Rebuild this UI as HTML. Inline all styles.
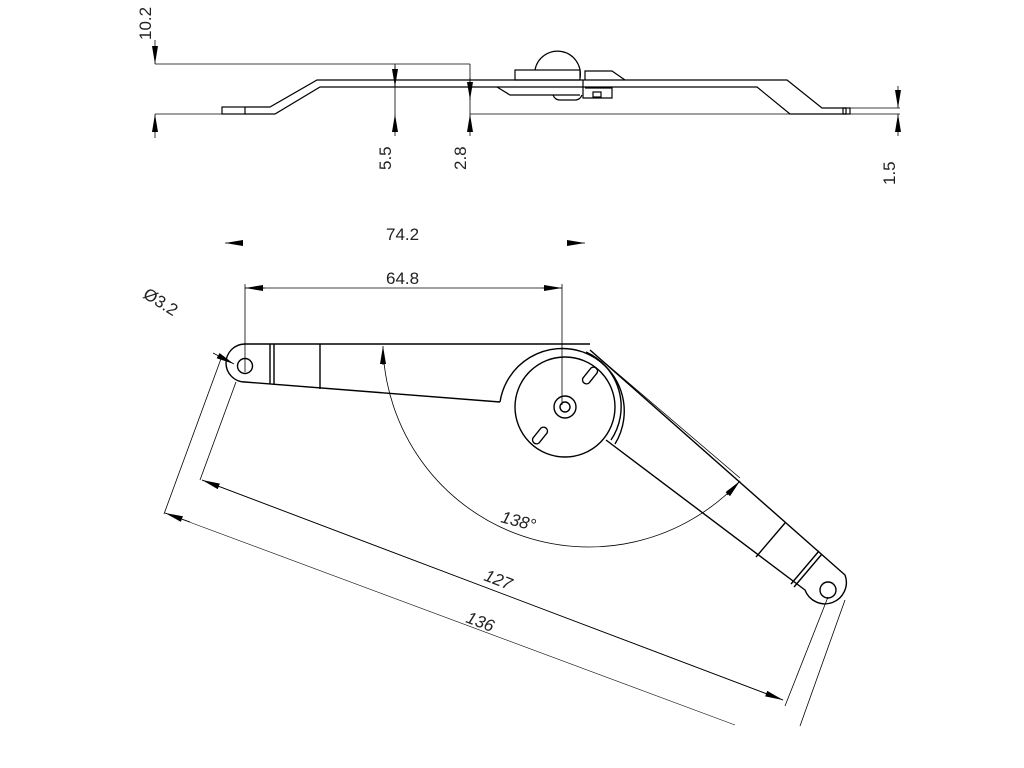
<!DOCTYPE html>
<html><head><meta charset="utf-8"><style>body{margin:0;background:#fff}svg{display:block}text{font-family:"Liberation Sans",sans-serif;fill:#222}</style></head><body>
<svg width="1024" height="768" viewBox="0 0 1024 768" xmlns="http://www.w3.org/2000/svg">
<defs>
<marker id="a" viewBox="0 0 10 10" refX="10" refY="5" markerWidth="18" markerHeight="6" markerUnits="userSpaceOnUse" orient="auto" preserveAspectRatio="none"><path d="M0,0L10,5L0,10z" fill="#000"/></marker>
</defs>
<g stroke="#000" fill="none">
<!-- TOP VIEW -->
<g stroke-width="0.8">
<line x1="155" y1="64" x2="470" y2="64"/>
<line x1="155" y1="114" x2="222" y2="114"/>
<line x1="470" y1="114" x2="900" y2="114"/>
<line x1="155" y1="40" x2="155" y2="64" marker-end="url(#a)"/>
<line x1="155" y1="138" x2="155" y2="114" marker-end="url(#a)"/>
<line x1="395" y1="64" x2="395" y2="114"/>
<line x1="395" y1="66" x2="395" y2="87" marker-end="url(#a)"/>
<line x1="395" y1="136" x2="395" y2="114" marker-end="url(#a)"/>
<line x1="470" y1="64" x2="470" y2="114"/>
<line x1="470" y1="78" x2="470" y2="100" marker-end="url(#a)"/>
<line x1="470" y1="136" x2="470" y2="114" marker-end="url(#a)"/>
<line x1="898" y1="86" x2="898" y2="108" marker-end="url(#a)"/>
<line x1="898" y1="136" x2="898" y2="114" marker-end="url(#a)"/>
<line x1="850" y1="108" x2="900" y2="108"/>
</g>
<g stroke-width="1.2">
<rect x="222" y="107" width="23" height="7"/>
<path d="M245,107H270L317,80H787L822,108H846V114H790L757,87H320L275,114H245"/>
<rect x="843" y="108" width="7" height="6"/>
<rect x="515" y="70" width="65" height="10"/>
<path d="M535,70A22,22 0 0 1 580,78"/>
<path d="M585,80V71H612L625,80"/>
<path d="M497,87L510,95H580"/>
<path d="M553,95Q555,100 560,100H575Q580,100 582,95"/>
<path d="M583,80V98H612V88H585"/>
<rect x="593" y="92" width="8" height="5"/>
</g>
<!-- BOTTOM VIEW dims -->
<g stroke-width="0.8">
<line x1="243" y1="243" x2="225" y2="243" marker-end="url(#a)"/>
<line x1="567" y1="243" x2="585" y2="243" marker-end="url(#a)"/>
<line x1="245" y1="288" x2="562" y2="288"/>
<line x1="265" y1="288" x2="245" y2="288" marker-end="url(#a)"/>
<line x1="542" y1="288" x2="562" y2="288" marker-end="url(#a)"/>
<line x1="245" y1="284" x2="245" y2="372"/>
<line x1="562" y1="284" x2="562" y2="405"/>
<line x1="213" y1="353" x2="234" y2="364" marker-end="url(#a)"/>
<line x1="236" y1="382" x2="200" y2="480"/>
<line x1="222" y1="356" x2="164" y2="514"/>
<line x1="828" y1="597" x2="785" y2="706"/>
<line x1="845" y1="600" x2="800" y2="726"/>
<line x1="202" y1="480" x2="783" y2="700" marker-end="url(#a)"/>
<line x1="783" y1="700" x2="202" y2="480" marker-end="url(#a)"/>
<line x1="165" y1="513" x2="735" y2="725" stroke-width="0.6"/>
<line x1="190" y1="522" x2="165" y2="513" marker-end="url(#a)"/>
<line x1="590" y1="350" x2="740" y2="478"/>
<path d="M383,348A206,206 0 0 0 740,481"/>
<line x1="383" y1="365" x2="383" y2="346" marker-end="url(#a)"/>
<line x1="727" y1="495" x2="740" y2="481" marker-end="url(#a)"/>
</g>
<!-- arms -->
<g stroke-width="1.4">
<path d="M245,344H590"/>
<path d="M245,344A19,19 0 0 0 245,382L500,402"/>
<circle cx="245" cy="366" r="7.5"/>
<line x1="270" y1="344" x2="270" y2="384"/>
<line x1="274" y1="344" x2="274" y2="385"/>
<line x1="320" y1="344" x2="320" y2="389"/>
<path d="M500,402A63,63 0 0 1 583,352"/>
<circle cx="565" cy="407" r="50"/>
<path d="M586,352A60,60 0 0 1 611,440"/>
<path d="M583,352A63,63 0 0 1 615,444"/>
<circle cx="565" cy="407" r="11"/>
<circle cx="565" cy="407" r="5"/>
<path d="M591,368l-8,10a4,4 0 0 0 6,5l8,-10a4,4 0 0 0 -6,-5z"/>
<path d="M541,428l-8,10a4,4 0 0 0 6,5l8,-10a4,4 0 0 0 -6,-5z"/>
<path d="M606,440L805,590A20,20 0 0 0 845,575L590,350"/>
<circle cx="828" cy="590" r="8"/>
<line x1="756" y1="557" x2="785" y2="523"/>
<line x1="791" y1="584" x2="819" y2="551"/>
<line x1="794" y1="587" x2="822" y2="554"/>
</g>
</g>
<g font-size="17">
<text transform="translate(151,40) rotate(-90)">10.2</text>
<text transform="translate(391,170) rotate(-90)">5.5</text>
<text transform="translate(466,170) rotate(-90)">2.8</text>
<text transform="translate(895,185) rotate(-90)">1.5</text>
<text x="386" y="240">74.2</text>
<text x="386" y="284">64.8</text>
<text transform="translate(142,297) rotate(32)" fill="#666">Ø3.2</text>
<text transform="translate(500,522) rotate(15)" font-style="italic">138°</text>
<text transform="translate(483,580) rotate(21)" font-style="italic">127</text>
<text transform="translate(465,622) rotate(21)" font-style="italic">136</text>
</g>
</svg>
</body></html>
